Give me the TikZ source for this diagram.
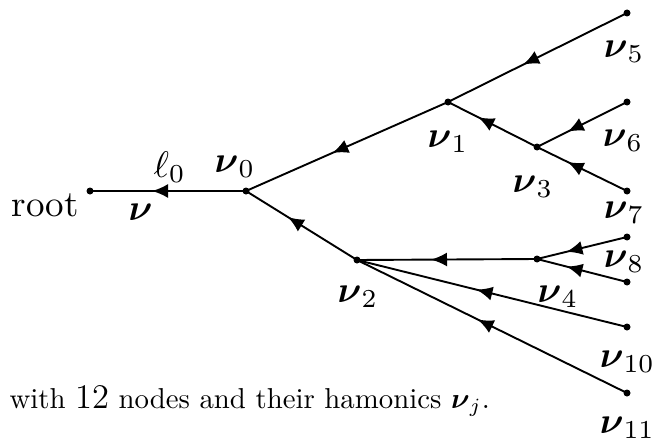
\RequirePackage{fix-cm}
\documentclass[tikz,border=0pt]{standalone}
\usepackage{amsmath}
\usetikzlibrary{calc,arrows.meta}
\tikzset{
  dot/.style={circle,fill=black,inner sep=0pt,minimum size=7pt},
  lbl/.style={inner sep=0pt,anchor=base west,font=\fontsize{10}{12}\selectfont,scale=3.7,transform shape},
  txt/.style={inner sep=0pt,anchor=base west,font=\fontsize{10}{12}\selectfont,scale=2.88,transform shape},
  edge/.style={line width=1.9pt},
  tip/.style={line width=1.9pt,-{Latex[length=16pt,width=14pt]}}
}
\newcommand\tedge[2]{%
  \draw[edge] (#1.center) -- (#2.center);
  \draw[tip] ($(#2)!0.5!(#1)$) -- ($(#2)!0.5!(#1)!16pt!(#1)$);}
\begin{document}
\begin{tikzpicture}[x=1pt,y=-1pt]
\useasboundingbox (0,0) rectangle (655,444);
\node[dot] (r) at (90,191) {};
\node[dot] (n0) at (246,191) {};
\node[dot] (n1) at (448,102) {};
\node[dot] (n2) at (357,260) {};
\node[dot] (n3) at (537,147) {};
\node[dot] (n4) at (537,259) {};
\node[dot] (n5) at (627,13) {};
\node[dot] (n6) at (627,102) {};
\node[dot] (n7) at (627,191) {};
\node[dot] (n8) at (627,237) {};
\node[dot] (n9) at (627,282) {};
\node[dot] (n10) at (627,327) {};
\node[dot] (n11) at (627,393) {};
\tedge{r}{n0}
\tedge{n0}{n1}
\tedge{n0}{n2}
\tedge{n1}{n5}
\tedge{n1}{n3}
\tedge{n3}{n6}
\tedge{n3}{n7}
\tedge{n2}{n4}
\tedge{n4}{n8}
\tedge{n4}{n9}
\tedge{n2}{n10}
\tedge{n2}{n11}
\node[lbl] (lroot) at (11,216) {root};
\node[lbl] (lnu) at (128,220) {$\boldsymbol{\nu}$};
\node[lbl] (lell) at (153,177) {$\ell_0$};
\node[lbl] (l0) at (214,172) {$\boldsymbol{\nu}_0$};
\node[lbl] (l1) at (427,147) {$\boldsymbol{\nu}_1$};
\node[lbl] (l2) at (337,302) {$\boldsymbol{\nu}_2$};
\node[lbl] (l3) at (512,192) {$\boldsymbol{\nu}_3$};
\node[lbl] (l4) at (537,302) {$\boldsymbol{\nu}_4$};
\node[lbl] (l5) at (603,57) {$\boldsymbol{\nu}_5$};
\node[lbl] (l6) at (602,146) {$\boldsymbol{\nu}_6$};
\node[lbl] (l7) at (603,218) {$\boldsymbol{\nu}_7$};
\node[lbl] (l8) at (603,267) {$\boldsymbol{\nu}_8$};
\node[lbl] (l10) at (599,367) {$\boldsymbol{\nu}_{10}$};
\node[lbl] (l11) at (599,433) {$\boldsymbol{\nu}_{11}$};
\node[txt] (cap) at (9,408) {with {\fontsize{12}{14}\selectfont$12$} nodes and their hamonics $\boldsymbol{\nu}_j$.};
\end{tikzpicture}
\end{document}
